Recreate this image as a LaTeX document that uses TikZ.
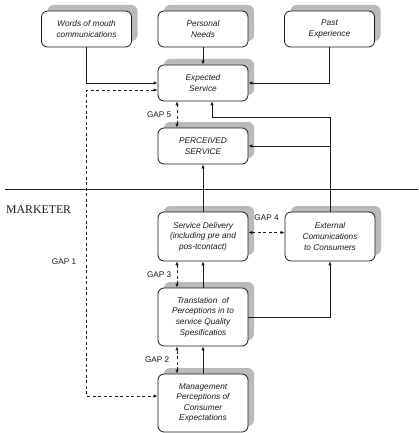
\documentclass[tikz,border=0pt]{standalone}
\usepackage{fontspec}
\setmainfont{Liberation Serif}
\setsansfont{Liberation Sans}
\usepackage{tikz}
\usetikzlibrary{positioning, arrows.meta, shadows}
\definecolor{Shade}{HTML}{BABABA}
\definecolor{Ink}{HTML}{1A1A1A}

\begin{document}
\begin{tikzpicture}[
    x=1pt, y=-1pt,
    every node/.style={font=\fontsize{8.2}{10.6}\selectfont\sffamily, Ink},
    gapbox/.style={draw=Ink, fill=white, rounded corners=6pt, line width=0.8pt,
        minimum width=90pt, align=center, inner sep=2pt,
        font=\fontsize{8.3}{10.6}\selectfont\sffamily\itshape,
        drop shadow={shadow xshift=6pt, shadow yshift=6pt, fill=Shade, opacity=1}},
    flow/.style={draw=Ink, line width=0.8pt, -{Latex[length=4pt, width=3.5pt]}},
    gap/.style={flow, {Latex[length=4pt, width=3.5pt]}-{Latex[length=4pt, width=3.5pt]},
        dash pattern=on 3pt off 2.5pt}
]
\useasboundingbox (0,0) rectangle (418,433);

% === CONSUMER side ===
\node[gapbox, minimum height=36pt] (words) at (86.5, 29) {Words of mouth\\communications};
\node[gapbox, minimum height=36pt] (needs) at (203, 29) {Personal\\Needs};
\node[gapbox, minimum height=36pt] (past) at (329.5, 29) {Past\\Experience};

\node[gapbox, minimum height=36pt] (expected) at (203, 83) {Expected\\Service};
\node[gapbox, minimum height=36pt] (perceived) at (203, 146) {PERCEIVED\\SERVICE};

% Divider
\draw[Ink, line width=0.8pt] (5, 189) -- (418, 189);
\node[font=\fontsize{11.8}{13}\selectfont\rmfamily, anchor=west, inner sep=0pt] (marketer) at (6, 210) {MARKETER};

% === MARKETER side ===
\node[gapbox, minimum height=49pt] (delivery) at (203, 236.5) {Service Delivery\\(including pre and\\pos-tcontact)};
\node[gapbox, minimum height=49pt] (external) at (330, 236.5) {External\\Comunications\\to Consumers};
\node[gapbox, minimum height=58pt] (translation) at (203, 317) {Translation~ of\\Perceptions in to\\service Quality\\Spesificatios};
\node[gapbox, minimum height=58pt] (management) at (203, 403) {Management\\Perceptions of\\Consumer\\Expectations};

% Expectations
\draw[flow] (words.south) |- (expected.west);
\draw[flow] (needs.south) -- (expected.north);
\draw[flow] (past.south) |- (expected.east);

% Delivery chain
\draw[flow] (management.north) -- (translation.south);
\draw[flow] (translation.north) -- (delivery.south);
\draw[flow] (delivery.north) -- (perceived.south);
\draw[flow] (translation.east) -| (external.south);
\draw[flow] (external.north) |- (212, 117) -- ([xshift=9pt]expected.south);
\draw[flow] (external.north |- perceived.east) -- (perceived.east);

% Gaps
\draw[gap] ([yshift=-7pt]expected.west) -- ++(-71, 0) |- ([yshift=7pt]management.west);
\node (gap1) at (64, 262) {GAP 1};
\draw[gap] ([xshift=-26pt]management.north) -- node[left=4pt] {GAP 2} ([xshift=-26pt]translation.south);
\draw[gap] ([xshift=-26pt]translation.north) -- node[left=2pt] {GAP 3} ([xshift=-26pt]delivery.south);
\draw[gap] ([yshift=4pt]delivery.east) -- node[above=8pt] {GAP 4} ([yshift=4pt]external.west);
\draw[gap] ([xshift=-26pt]perceived.north) -- node[left=2pt] {GAP 5} ([xshift=-26pt]expected.south);

\end{tikzpicture}
\end{document}
